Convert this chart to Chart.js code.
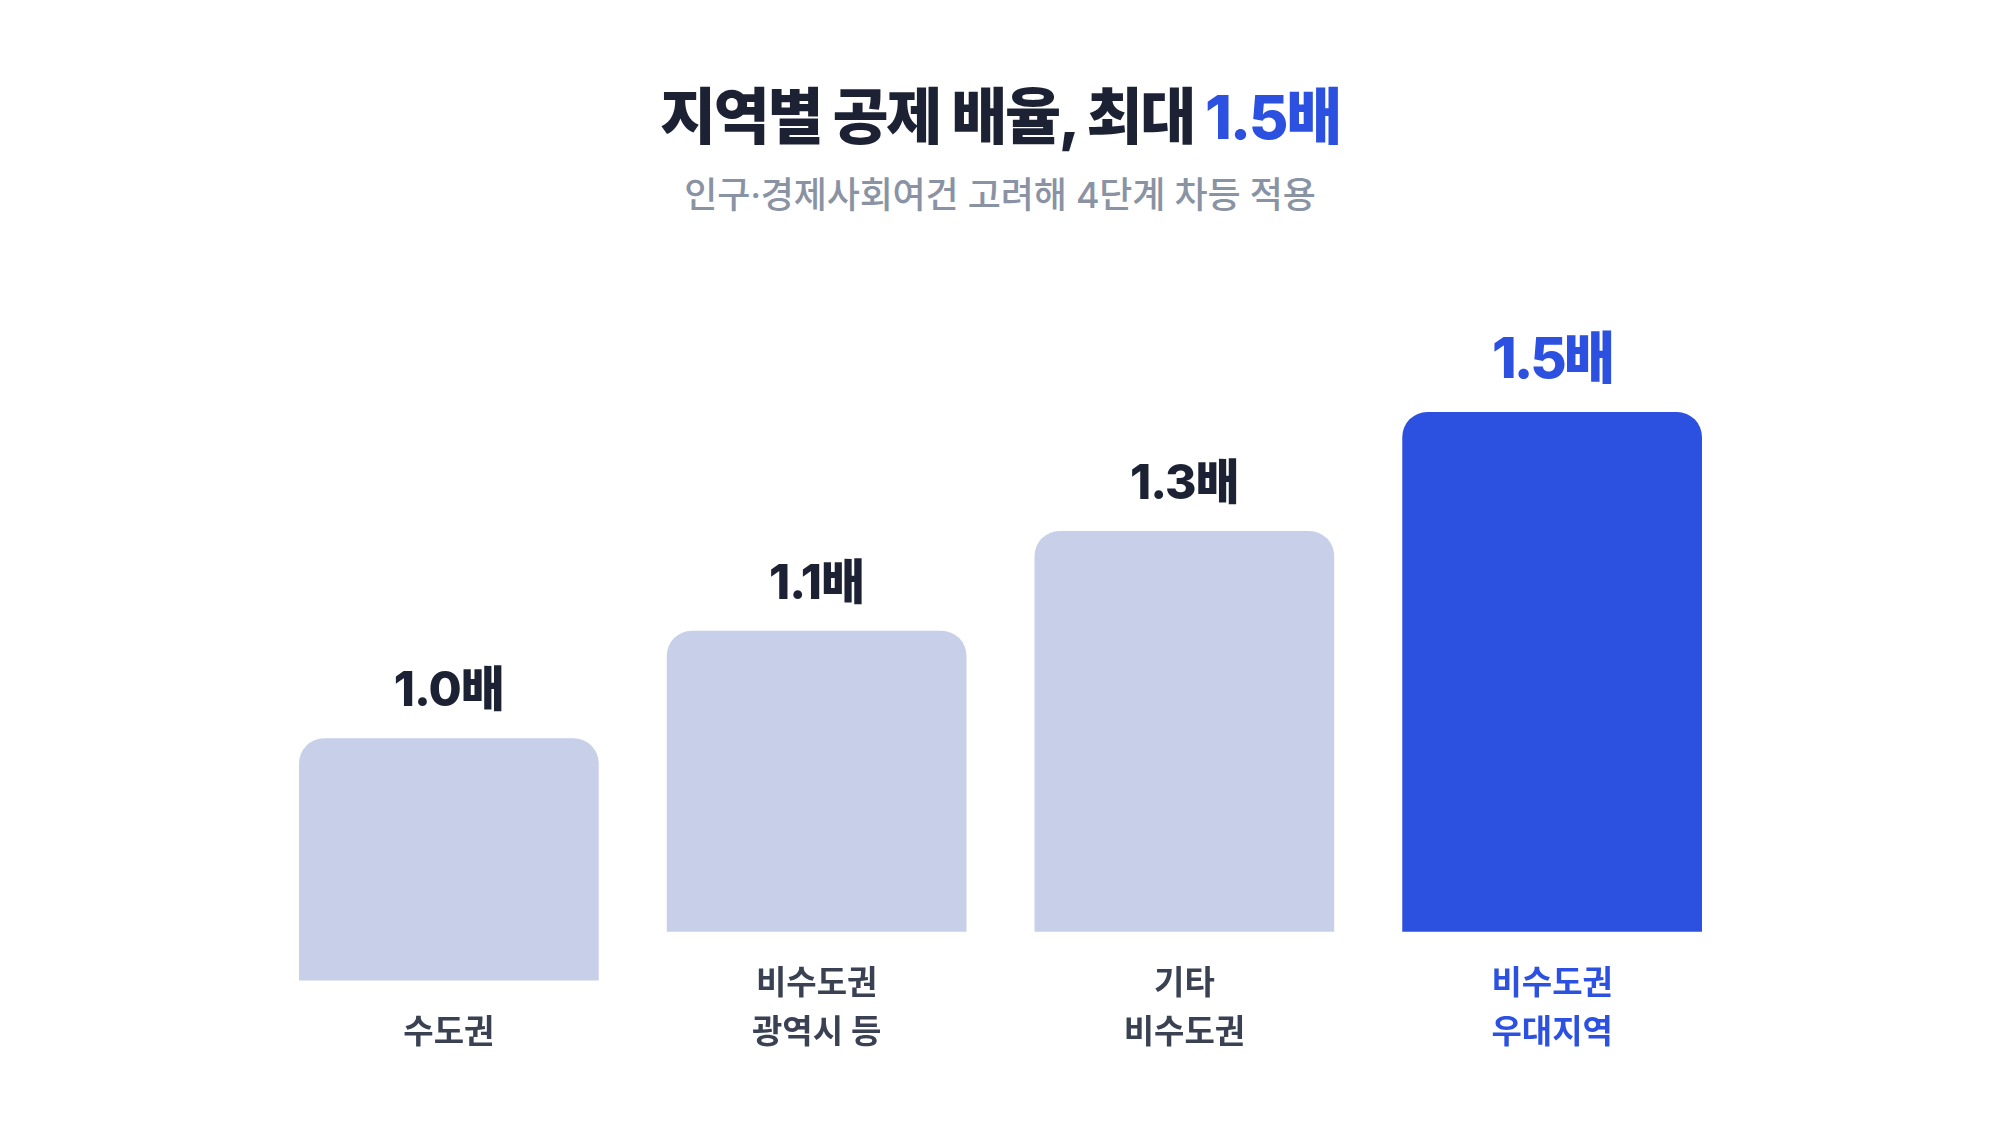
<!DOCTYPE html>
<html lang="ko">
<head>
<meta charset="utf-8">
<title>지역별 공제 배율</title>
<script src="https://cdn.jsdelivr.net/npm/chart.js@4.4.1/dist/chart.umd.min.js"></script>
<style>
  html, body { margin: 0; padding: 0; background: #ffffff; }
  body { width: 2000px; height: 1126px; position: relative; overflow: hidden;
         font-family: "Inter", "Noto Sans CJK KR", sans-serif; }
  #canvas { position: absolute; left: 0; top: 0; }
  .head { position: absolute; left: 0; width: 2000px; text-align: center; line-height: 1; white-space: nowrap; }
  #title { top: 87px; left: 0; font-size: 61px; font-weight: 800; color: #1c2233; letter-spacing: -2.3px; }
  #title span { color: #2c50e0; }
  #subtitle { top: 177px; left: 0; font-size: 36px; font-weight: 500; color: #8a93a3; letter-spacing: -0.2px; }
</style>
</head>
<body>
<div class="head" id="title">지역별 공제 배율, 최대 <span>1.5배</span></div>
<div class="head" id="subtitle">인구·경제사회여건 고려해 4단계 차등 적용</div>
<canvas id="canvas" width="2000" height="1126"></canvas>
<script>
// categories (multi-line tick labels)
var regions = [
    ['', '수도권'],
    ['비수도권', '광역시 등'],
    ['기타', '비수도권'],
    ['비수도권', '우대지역']
];
// deduction multiplier shown above each bar
var multipliers = [1.0, 1.1, 1.3, 1.5];
// bar extent as drawn, in % of the tallest bar
var barBottom = [-9.4, 0, 0, 0];
var barTop = [37.2, 57.9, 77.1, 100];

var BLUE = '#2c50e0';
var PALE = '#c8d0e9';
var DARK = '#1c2233';
var LABEL = '#3a4152';
var FONT = '"Inter", "Noto Sans CJK KR", sans-serif';

var bars = barTop.map(function(t, i) { return [barBottom[i], t]; });

// value labels above bars
var valueLabels = {
    id: 'valueLabels',
    afterDatasetsDraw: function(chart) {
        var ctx = chart.ctx;
        var meta = chart.getDatasetMeta(0);
        ctx.save();
        ctx.textAlign = 'center';
        ctx.textBaseline = 'alphabetic';
        meta.data.forEach(function(bar, i) {
            var last = i === multipliers.length - 1;
            ctx.font = '800 ' + (last ? 56 : 48) + 'px ' + FONT;
            ctx.fillStyle = last ? BLUE : DARK;
            if ('letterSpacing' in ctx) ctx.letterSpacing = last ? '-3px' : '-1px';
            ctx.fillText(multipliers[i].toFixed(1) + '배', bar.x, bar.y - (last ? 34 : 32));
        });
        ctx.restore();
    }
};

var config = {
    type: 'bar',
    data: {
        labels: regions,
        datasets: [{
            data: bars,
            backgroundColor: function(c) { return c.dataIndex === 3 ? BLUE : PALE; },
            borderWidth: 0,
            borderRadius: {topLeft: 25, topRight: 25, bottomLeft: 0, bottomRight: 0},
            borderSkipped: 'bottom',
            barPercentage: 0.815,
            categoryPercentage: 1.0,
            clip: false
        }]
    },
    options: {
        responsive: false,
        animation: false,
        layout: {
            padding: {left: 265, right: 264, top: 412, bottom: 49}
        },
        scales: {
            x: {
                grid: {display: false},
                border: {display: false},
                ticks: {
                    padding: 20,
                    maxRotation: 0,
                    autoSkip: false,
                    font: {family: FONT, size: 33, weight: '700', lineHeight: 1.475},
                    color: function(c) { return c.index === 3 ? BLUE : LABEL; }
                }
            },
            y: {
                display: false,
                min: 0,
                max: 100
            }
        },
        plugins: {
            legend: {display: false},
            tooltip: {enabled: false}
        }
    },
    plugins: [valueLabels]
};

window.onload = function() {
    var ctx = document.getElementById('canvas').getContext('2d');
    window.myBar = new Chart(ctx, config);
};
</script>
</body>
</html>
